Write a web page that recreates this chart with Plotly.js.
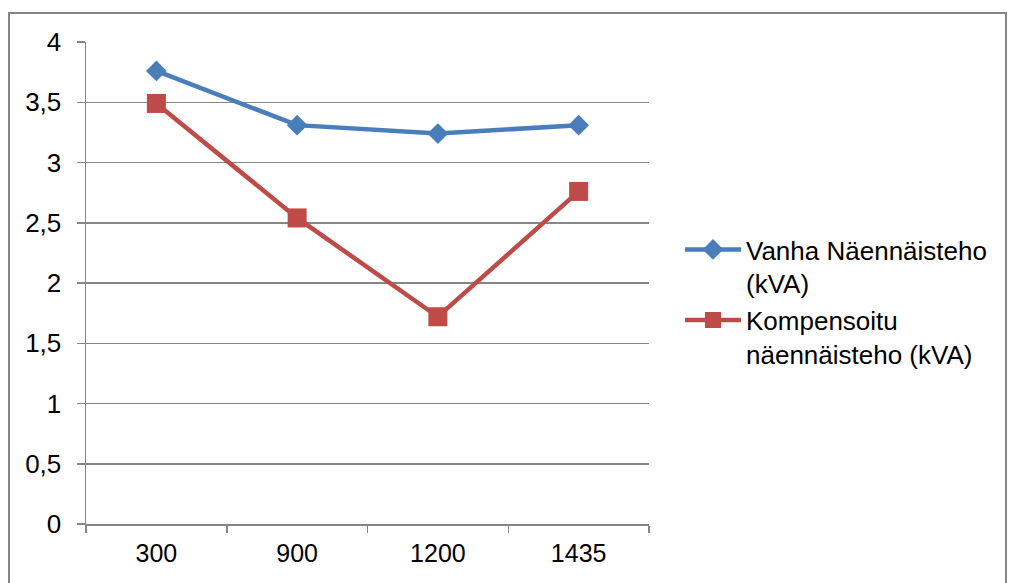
<!DOCTYPE html>
<html>
<head>
<meta charset="utf-8">
<script src="https://cdn.plot.ly/plotly-3.0.1.min.js"></script>
<style>
html,body{margin:0;padding:0;background:#fff;}
#chart{width:1009px;height:583px;}
</style>
</head>
<body>
<div id="chart"></div>
<script>
const categories = ['300', '900', '1200', '1435'];
const vanha = [3.76, 3.31, 3.24, 3.31];
const kompensoitu = [3.49, 2.54, 1.72, 2.76];
const seriesNames = ['Vanha Näennäisteho<br>(kVA)', 'Kompensoitu<br>näennäisteho (kVA)'];
const yTicks = [0, 0.5, 1, 1.5, 2, 2.5, 3, 3.5, 4];

const W = 1009, H = 583;
const M = {l: 86, r: 360, t: 42, b: 59};
const pw = W - M.l - M.r, ph = H - M.t - M.b;
const px = x => (x - M.l) / pw;
const py = y => (H - M.b - y) / ph;

const traces = [
  {
    x: categories, y: vanha, name: seriesNames[0], type: 'scatter', mode: 'lines+markers',
    line: {color: '#4a7ebb', width: 4.5},
    marker: {symbol: 'diamond', size: 16, color: '#4a7ebb'}
  },
  {
    x: categories, y: kompensoitu, name: seriesNames[1], type: 'scatter', mode: 'lines+markers',
    line: {color: '#be4b48', width: 4.5},
    marker: {symbol: 'square', size: 19, color: '#be4b48'}
  }
];

const layout = {
  width: W, height: H,
  margin: M,
  paper_bgcolor: '#ffffff', plot_bgcolor: '#ffffff',
  separators: ', ',
  font: {family: 'Liberation Sans, Arial, sans-serif', color: '#000000', size: 25},
  showlegend: true,
  legend: {
    x: px(680), y: py(226), xanchor: 'left', yanchor: 'top',
    font: {size: 26, color: '#000'},
    valign: 'top', itemwidth: 56, bgcolor: 'rgba(0,0,0,0)'
  },
  xaxis: {
    type: 'category', categoryorder: 'array', categoryarray: categories,
    range: [-0.5, 3.5],
    showgrid: false, zeroline: false,
    showline: true, linecolor: '#868686', linewidth: 1.5,
    ticks: 'outside', tickson: 'boundaries', ticklen: 7, tickcolor: '#868686', tickwidth: 1.5,
    tickfont: {size: 25}, ticklabelstandoff: 6
  },
  yaxis: {
    range: [0, 4], tickvals: yTicks, tickformat: '.1~f',
    showgrid: true, gridcolor: '#868686', gridwidth: 1.5, zeroline: false,
    showline: true, linecolor: '#868686', linewidth: 1.5,
    ticks: 'outside', ticklen: 8, tickcolor: '#868686', tickwidth: 1.5,
    tickfont: {size: 26}, ticklabelstandoff: 10
  },
  shapes: [
    {type: 'rect', xref: 'paper', yref: 'paper', x0: px(9), x1: px(1006), y0: py(590), y1: py(13),
     line: {color: '#868686', width: 2}, fillcolor: 'rgba(0,0,0,0)', layer: 'below'}
  ]
};

Plotly.newPlot('chart', traces, layout, {displayModeBar: false, staticPlot: true});
</script>
</body>
</html>
